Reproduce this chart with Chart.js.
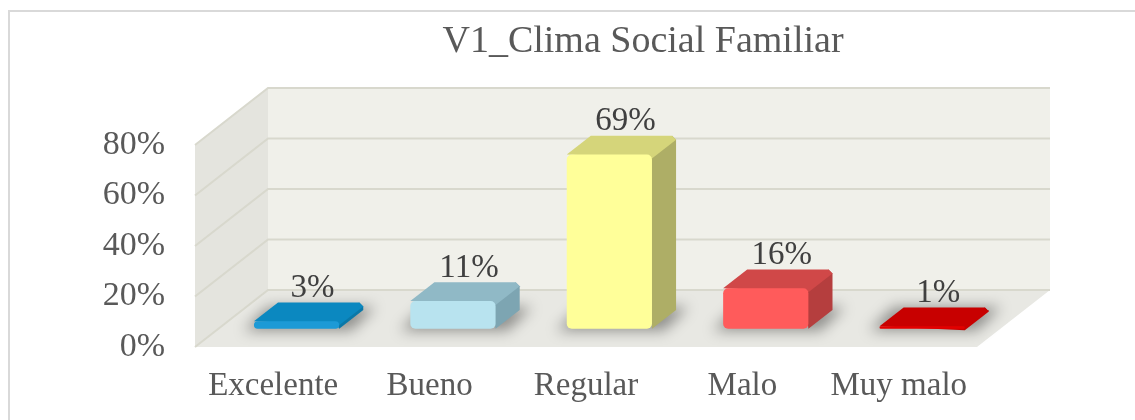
<!DOCTYPE html>
<html>
<head>
<meta charset="utf-8">
<script src="https://cdn.jsdelivr.net/npm/chart.js@4.4.1/dist/chart.umd.min.js"></script>
<style>
  html, body { margin: 0; padding: 0; background: #fff; overflow: hidden; }
  #wrap { width: 1135px; height: 420px; position: relative; }
</style>
</head>
<body>
<div id="wrap"><canvas id="climaChart"></canvas></div>
<script>
// datos del grafico
const titulo = 'V1_Clima Social Familiar';
const categorias = ['Excelente', 'Bueno', 'Regular', 'Malo', 'Muy malo'];
const porcentajes = [0.03, 0.11, 0.69, 0.16, 0.01];
const ticksY = [0, 0.2, 0.4, 0.6, 0.8];

const colores = {
    frente: ['#1c9ad6', '#b8e3ef', '#ffff99', '#ff5b5b', '#e30000'],
    tapa:   ['#0b88c0', '#90b9c6', '#d5d57a', '#d04848', '#c80000'],
    lado:   ['#0a78a8', '#7da5b2', '#aeae66', '#b53e3e', '#a80000']
};
const fuente = 'Liberation Serif';
const gris = '#595959';

// profundidad de la caja 3D
const PROF_X = 73, PROF_Y = -57;
const POS_BARRA = 0.32;  // donde quedan las barras dentro de la caja
const GROSOR = 0.33;     // profundidad de cada barra

function poly(ctx, pts, fill) {
    ctx.beginPath();
    ctx.moveTo(pts[0][0], pts[0][1]);
    for (let i = 1; i < pts.length; i++) ctx.lineTo(pts[i][0], pts[i][1]);
    ctx.closePath();
    ctx.fillStyle = fill;
    ctx.fill();
}

const marcoYCaja = {
    id: 'marcoYCaja',
    beforeDraw(chart) {
        const { ctx, chartArea: a, scales: { y } } = chart;
        ctx.save();
        // marco
        ctx.strokeStyle = '#d9d9d9';
        ctx.lineWidth = 2;
        ctx.strokeRect(9, 11, chart.width + 20, chart.height + 20);

        // titulo
        ctx.fillStyle = gris;
        ctx.font = '38px "' + fuente + '"';
        ctx.textAlign = 'center';
        ctx.textBaseline = 'alphabetic';
        ctx.fillText(titulo, 643, 52);

        // paredes y piso
        const L = a.left, R = a.right;
        const T = y.getPixelForValue(y.max), B = y.getPixelForValue(0);
        poly(ctx, [[L, T], [L + PROF_X, T + PROF_Y], [L + PROF_X, B + PROF_Y], [L, B]], '#e4e4de');
        poly(ctx, [[L + PROF_X, T + PROF_Y], [R + PROF_X, T + PROF_Y], [R + PROF_X, B + PROF_Y], [L + PROF_X, B + PROF_Y]], '#f0f0ea');
        poly(ctx, [[L, B], [L + PROF_X, B + PROF_Y], [R + PROF_X, B + PROF_Y], [R, B]], '#e8e8e3');

        ctx.strokeStyle = '#d8d8cd';
        ctx.lineWidth = 2;
        ticksY.forEach(v => {
            const py = y.getPixelForValue(v);
            ctx.beginPath();
            ctx.moveTo(L, py);
            ctx.lineTo(L + PROF_X, py + PROF_Y);
            ctx.lineTo(R + PROF_X, py + PROF_Y);
            ctx.stroke();
        });
        ctx.restore();
    }
};

const barras3d = {
    id: 'barras3d',
    beforeDatasetsDraw(chart) {
        const ctx = chart.ctx;
        const bx = PROF_X * POS_BARRA, by = PROF_Y * POS_BARRA;
        const gx = PROF_X * GROSOR, gy = PROF_Y * GROSOR;
        ctx.save();
        ctx.translate(bx, by);
        chart.getDatasetMeta(0).data.forEach((bar, i) => {
            const { x, y, base, width } = bar.getProps(['x', 'y', 'base', 'width'], true);
            const izq = x - width / 2, der = x + width / 2;
            // sombra sobre el piso
            ctx.save();
            ctx.filter = 'blur(7px)';
            poly(ctx, [[izq - 10, base + 2], [izq - 10 + gx, base + gy - 3], [der + gx + 12, base + gy - 3], [der + 12, base + 2]], 'rgba(0,0,0,0.38)');
            ctx.restore();
            poly(ctx, [[der - 4, y], [der + gx - 4, y + gy], [der + gx, y + gy + 4], [der + gx, base + gy], [der, base]], colores.lado[i]);
            poly(ctx, [[izq, y], [izq + gx, y + gy], [der + gx - 4, y + gy], [der + gx, y + gy + 4], [der, y + 4]], colores.tapa[i]);
        });
    },
    afterDatasetsDraw(chart) {
        const ctx = chart.ctx;
        ctx.restore();
        const bx = PROF_X * POS_BARRA, by = PROF_Y * POS_BARRA;
        const gx = PROF_X * GROSOR, gy = PROF_Y * GROSOR;
        ctx.save();
        ctx.fillStyle = '#404040';
        ctx.font = '33px "' + fuente + '"';
        ctx.textAlign = 'center';
        ctx.textBaseline = 'middle';
        chart.getDatasetMeta(0).data.forEach((bar, i) => {
            ctx.fillText(Math.round(porcentajes[i] * 100) + '%', bar.x + bx + gx / 2 + 4, bar.y + by + gy - 14);
        });
        ctx.restore();
    }
};

new Chart(document.getElementById('climaChart'), {
    type: 'bar',
    data: {
        labels: categorias,
        datasets: [{
            data: porcentajes,
            backgroundColor: colores.frente,
            borderRadius: 5,
            borderSkipped: false,
            categoryPercentage: 1,
            barPercentage: 0.545,
            clip: false
        }]
    },
    options: {
        responsive: true,
        maintainAspectRatio: false,
        animation: false,
        layout: { padding: { left: 9, right: 158, top: 145, bottom: 0 } },
        plugins: {
            legend: { display: false },
            tooltip: { enabled: false }
        },
        scales: {
            x: {
                grid: { display: false, drawTicks: false },
                border: { display: false },
                ticks: { color: gris, font: { family: fuente, size: 33 }, padding: 20 },
                afterFit(s) { s.height = 73; }
            },
            y: {
                min: 0,
                max: 0.8,
                grid: { display: false, drawTicks: false },
                border: { display: false },
                ticks: {
                    stepSize: 0.2,
                    color: gris,
                    font: { family: fuente, size: 34 },
                    padding: 30,
                    callback: v => Math.round(v * 100) + '%'
                },
                afterFit(s) { s.width = 186; }
            }
        }
    },
    plugins: [marcoYCaja, barras3d]
});
</script>
</body>
</html>
